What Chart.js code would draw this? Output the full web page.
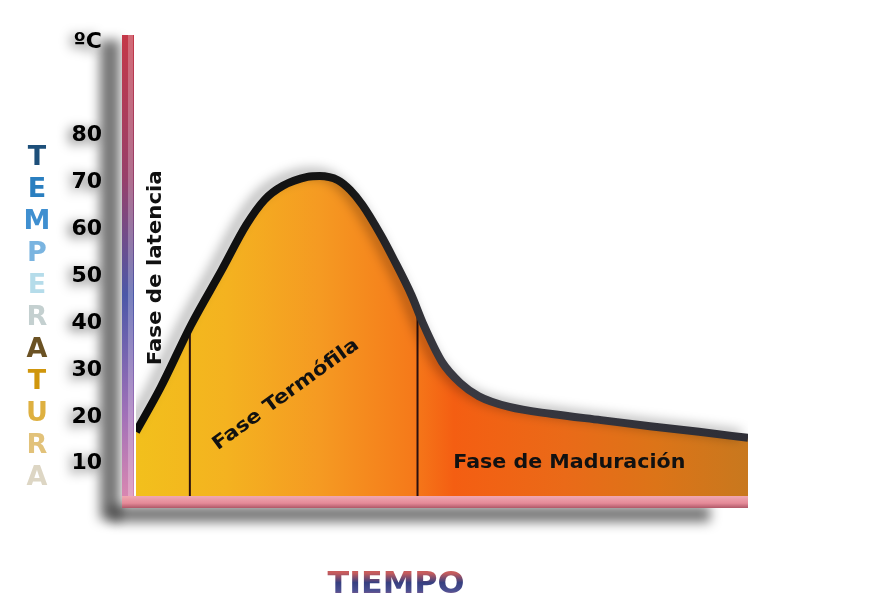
<!DOCTYPE html>
<html>
<head>
<meta charset="utf-8">
<script src="https://cdn.jsdelivr.net/npm/chart.js@4.4.1/dist/chart.umd.min.js"></script>
<style>
  html, body { margin: 0; padding: 0; background: #fff; }
  #wrap { width: 874px; height: 607px; }
</style>
</head>
<body>
<div id="wrap"><canvas id="grafico"></canvas></div>
<script>
// datos (tiempo en % del eje, temperatura en ºC)
const tiempo = [0, 4, 9, 14, 18, 21, 24, 28, 30, 33, 35, 37, 40, 42, 45, 47, 50, 53, 56, 61, 68, 76, 84, 92, 100];
const temperatura = [16.8, 26.2, 39.6, 51.3, 60.9, 66.3, 69.3, 71.2, 71.4, 70.5, 68.4, 65.2, 58.8, 53.9, 46.0, 39.6, 31.7, 27.2, 24.4, 22.1, 20.6, 19.3, 18.0, 16.8, 15.5];
const yTicks = [10, 20, 30, 40, 50, 60, 70, 80, 100];
const unidad = 'ºC';
// cambios de fase
const limitesFase = [8.8, 46];
const tempLimites = [39, 43];
const fases = ['Fase de latencia', 'Fase Termófila', 'Fase de Maduración'];
const tituloY = 'TEMPERATURA';
const tituloX = 'TIEMPO';

const Y_MIN = 3.1;
const FUENTE = '"DejaVu Sans", "Liberation Sans", Arial, sans-serif';

const coloresLetras = ['#1d4f7a', '#2a7fc0', '#3f8fd0', '#7ab4e0', '#b5dcea', '#c4d0d0',
  '#6b5224', '#d0960c', '#deb040', '#e2c27a', '#ddd6c4'];

// dibuja un texto centrado, estirado hasta el ancho pedido
function textoAncho(c, txt, x, y, ang, ancho) {
  c.save();
  c.translate(x, y);
  c.rotate(ang || 0);
  if (ancho) c.scale(ancho / c.measureText(txt).width, 1);
  c.fillText(txt, 0, 0);
  c.restore();
}

const decoracion = {
  id: 'decoracion',
  beforeDraw(chart) {
    const c = chart.ctx;
    const y = chart.scales.y;
    c.save();
    // sombras grises del eje
    c.filter = 'blur(6px)';
    c.fillStyle = 'rgba(0,0,0,0.55)';
    c.fillRect(100, 40, 20, 480);
    c.fillRect(110, 506, 600, 16);
    // sombras de los numeros
    c.font = 'bold 22px ' + FUENTE;
    c.textAlign = 'right';
    c.textBaseline = 'middle';
    c.fillStyle = 'rgba(0,0,0,0.6)';
    yTicks.forEach(v => {
      c.fillText(v === 100 ? unidad : String(v), 98, y.getPixelForValue(v) + 3);
    });
    c.restore();
  },
  beforeDatasetDraw(chart, args) {
    if (args.index !== 0) return;
    const c = chart.ctx;
    c.save();
    c.shadowColor = 'rgba(0,0,0,0.35)';
    c.shadowBlur = 12;
    c.shadowOffsetX = -7;
    c.shadowOffsetY = -3;
  },
  afterDatasetDraw(chart, args) {
    if (args.index !== 0) return;
    chart.ctx.restore();
  },
  afterDatasetsDraw(chart) {
    const c = chart.ctx;
    const a = chart.chartArea;
    const xs = chart.scales.x, ys = chart.scales.y;
    c.save();
    // eje vertical
    let g = c.createLinearGradient(0, 35, 0, 508);
    g.addColorStop(0, '#c43848');
    g.addColorStop(0.3, '#98406a');
    g.addColorStop(0.55, '#4c58a8');
    g.addColorStop(0.8, '#a070b8');
    g.addColorStop(1, '#e08ab0');
    c.fillStyle = g;
    c.fillRect(122, 35, 12, 473);
    c.fillStyle = 'rgba(255,255,255,0.25)';
    c.fillRect(128, 35, 5, 473);
    // eje horizontal
    g = c.createLinearGradient(0, a.bottom, 0, a.bottom + 12);
    g.addColorStop(0, '#f0a8b2');
    g.addColorStop(0.6, '#e48a98');
    g.addColorStop(1, '#b05868');
    c.fillStyle = g;
    c.fillRect(122, a.bottom, a.right - 122, 12);

    // rotulos de fases
    c.fillStyle = '#111';
    c.textAlign = 'center';
    c.textBaseline = 'middle';
    c.font = 'bold 19px ' + FUENTE;
    textoAncho(c, fases[0], xs.getPixelForValue(3.3), ys.getPixelForValue(51.8), -Math.PI / 2, 195);
    textoAncho(c, fases[1], xs.getPixelForValue(24.5), ys.getPixelForValue(24.7), -36 * Math.PI / 180, 176);
    textoAncho(c, fases[2], xs.getPixelForValue(70.8), ys.getPixelForValue(10.1), 0, 232);

    // titulo vertical
    c.font = 'bold 27px ' + FUENTE;
    tituloY.split('').forEach((l, i) => {
      c.fillStyle = coloresLetras[i];
      textoAncho(c, l, 37, 158 + 32 * i, 0);
    });

    // titulo horizontal (degradado en coordenadas locales del texto)
    c.font = 'bold 30px ' + FUENTE;
    g = c.createLinearGradient(0, -12, 0, 12);
    g.addColorStop(0, '#c85c5c');
    g.addColorStop(0.4, '#363f80');
    g.addColorStop(0.75, '#4c5092');
    g.addColorStop(1, '#b06080');
    c.fillStyle = g;
    textoAncho(c, tituloX, 396, 585, 0, 137);
    c.restore();
  }
};

function rellenoNaranja(context) {
  const { chart } = context;
  const a = chart.chartArea;
  if (!a) return '#f59020';
  const g = chart.ctx.createLinearGradient(a.left, 0, a.right, 0);
  g.addColorStop(0, '#f2c01c');
  g.addColorStop(0.15, '#f4b220');
  g.addColorStop(0.3, '#f59a22');
  g.addColorStop(0.45, '#f57a1a');
  g.addColorStop(0.52, '#f45e12');
  g.addColorStop(0.7, '#ea6a18');
  g.addColorStop(0.85, '#dc7418');
  g.addColorStop(1, '#c8781e');
  return g;
}

function bordeCurva(context) {
  const { chart } = context;
  const a = chart.chartArea;
  if (!a) return '#111';
  const g = chart.ctx.createLinearGradient(a.left, 0, a.right, 0);
  g.addColorStop(0, '#0c0c0c');
  g.addColorStop(0.35, '#161616');
  g.addColorStop(0.5, '#3a3a42');
  g.addColorStop(1, '#2e2e36');
  return g;
}

const lineasFase = limitesFase.map((t, i) => ({
  data: [{ x: t, y: Y_MIN }, { x: t, y: tempLimites[i] }],
  borderColor: '#2a1010',
  borderWidth: 2,
  pointRadius: 0,
  fill: false,
  order: 1
}));

new Chart(document.getElementById('grafico'), {
  type: 'line',
  data: {
    datasets: [
      {
        data: tiempo.map((t, i) => ({ x: t, y: temperatura[i] })),
        borderColor: bordeCurva,
        backgroundColor: rellenoNaranja,
        borderWidth: 8,
        pointRadius: 0,
        cubicInterpolationMode: 'monotone',
        fill: 'start',
        order: 0
      },
      ...lineasFase
    ]
  },
  options: {
    responsive: true,
    maintainAspectRatio: false,
    animation: false,
    layout: { padding: { left: 0, top: 42, right: 126, bottom: 111 } },
    scales: {
      x: { type: 'linear', min: 0, max: 100, display: false },
      y: {
        type: 'linear',
        min: Y_MIN,
        max: 100,
        grid: { display: false },
        border: { display: false },
        afterBuildTicks: (axis) => { axis.ticks = yTicks.map(v => ({ value: v })); },
        afterFit: (scale) => { scale.width = 136; },
        ticks: {
          padding: 26,
          color: '#000',
          font: { family: FUENTE, size: 22, weight: 'bold' },
          callback: (v) => v === 100 ? unidad : v
        }
      }
    },
    plugins: {
      legend: { display: false },
      tooltip: { enabled: false },
      filler: { drawTime: 'beforeDatasetsDraw' }
    }
  },
  plugins: [decoracion]
});
</script>
</body>
</html>
